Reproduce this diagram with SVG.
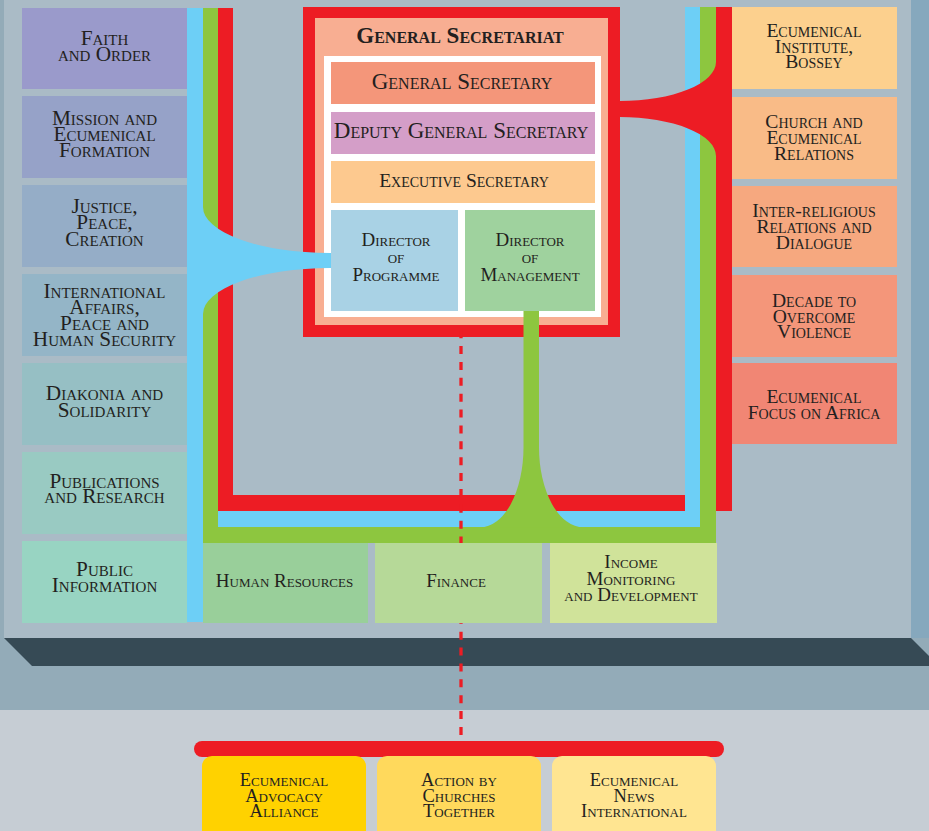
<svg xmlns="http://www.w3.org/2000/svg" width="929" height="831" viewBox="0 0 929 831">
<style>
.t{font-family:"Liberation Serif","Times New Roman",serif;font-variant:small-caps;fill:#231f20;text-anchor:middle}
.l{font-size:21.3px}
.r{font-size:19.6px}
.b{font-size:19px}
.d{font-size:19px}
.a{font-size:18.5px}
.g{font-size:23px}
.title{font-size:23px;font-weight:bold}
.red{fill:#ed1c24}
.blue{fill:#6dcff6}
.green{fill:#8dc63f}
</style>
<g id="background">
<rect x="0" y="0" width="929" height="712" fill="#93abb8"/>
<rect x="4" y="0" width="907" height="638" fill="#aabbc6"/>
<rect x="911" y="0" width="18" height="638" fill="#86a8bd"/>
<polygon points="4,638 911,638 939,666 32,666" fill="#364a55"/>
<rect x="0" y="710" width="929" height="121" fill="#c6cdd4"/>
</g>
<g id="connectors">
<path class="red" d="M218,8 L233,8 L233,495 L716,495 L716,7 L732,7 L732,511 L218,511 Z"/>
<rect class="blue" x="187" y="8" width="16" height="614"/>
<rect class="blue" x="187" y="511" width="513" height="16"/>
<rect class="blue" x="685" y="7" width="15" height="520"/>
<rect class="green" x="203" y="8" width="15" height="535"/>
<rect class="green" x="203" y="527" width="513" height="16"/>
<rect class="green" x="700" y="7" width="16" height="536"/>
</g>
<g id="general-secretariat">
<rect x="303" y="7" width="317" height="330" fill="#ed1c24"/>
<rect x="315" y="18" width="293" height="307" fill="#f8ae92"/>
<rect x="324" y="56" width="277" height="261" fill="#ffffff"/>
<text class="t title" x="460" y="43">General Secretariat</text>
</g>
<g id="general-secretary">
<rect x="331" y="62" width="264" height="42" fill="#f4967a"/>
<text class="t g" x="462" y="88.5">General Secretary</text>
</g>
<g id="deputy-general-secretary">
<rect x="331" y="112" width="264" height="42" fill="#d49ec8"/>
<text class="t g" x="461" y="138">Deputy General Secretary</text>
</g>
<g id="executive-secretary">
<rect x="331" y="161" width="264" height="42" fill="#fdc98f"/>
<text class="t" style="font-size:19.5px" x="464" y="186.5">Executive Secretary</text>
</g>
<g id="director-programme">
<rect x="331" y="210" width="127" height="101" fill="#a9d2e5"/>
<text class="t d" x="396" y="245.5">Director</text>
<text class="t d" x="396" y="263">of</text>
<text class="t d" x="396" y="281">Programme</text>
</g>
<g id="director-management">
<rect x="465" y="210" width="130" height="101" fill="#9fd29e"/>
<text class="t d" x="530" y="245.5">Director</text>
<text class="t d" x="530" y="263">of</text>
<text class="t d" x="530" y="281">Management</text>
</g>
<g id="fans">
<path class="blue" d="M203,207 A127 46 0 0 0 330,253 L331,253 L331,268 L330,268 A127 46 0 0 0 203,314 Z"/>
<path class="red" d="M716,62 A96 39 0 0 1 620,101 L620,117 A96 39 0 0 1 716,156 Z"/>
<path class="green" d="M523.5,311 L539,311 L539,447 A44.6 80 0 0 0 583.6,527.5 L480,527.5 A43.5 80 0 0 0 523.5,447 Z"/>
<line x1="461" y1="330.2" x2="461" y2="736" stroke="#ed1c24" stroke-width="3.3" stroke-dasharray="8 7.87"/>
</g>
<g id="faith-and-order">
<rect x="22" y="8" width="165" height="81" fill="#9a9acb"/>
<text class="t l" x="104.5" y="45">Faith</text>
<text class="t l" x="104.5" y="61">and Order</text>
</g>
<g id="mission">
<rect x="22" y="96" width="165" height="82" fill="#96a2c8"/>
<text class="t l" x="104.5" y="125">Mission and</text>
<text class="t l" x="104.5" y="141">Ecumenical</text>
<text class="t l" x="104.5" y="157">Formation</text>
</g>
<g id="justice">
<rect x="22" y="185" width="165" height="82" fill="#95adc7"/>
<text class="t l" x="104.5" y="213.3">Justice,</text>
<text class="t l" x="104.5" y="229.3">Peace,</text>
<text class="t l" x="104.5" y="245.5">Creation</text>
</g>
<g id="international-affairs">
<rect x="22" y="274" width="165" height="82" fill="#94b5c7"/>
<text class="t l" x="104.5" y="298.3">International</text>
<text class="t l" x="104.5" y="314">Affairs,</text>
<text class="t l" x="104.5" y="330">Peace and</text>
<text class="t l" x="104.5" y="346">Human Security</text>
</g>
<g id="diakonia">
<rect x="22" y="363" width="165" height="82" fill="#96bfc4"/>
<text class="t l" x="104.5" y="400">Diakonia and</text>
<text class="t l" x="104.5" y="416.5">Solidarity</text>
</g>
<g id="publications">
<rect x="22" y="452" width="165" height="82" fill="#99cac2"/>
<text class="t l" x="104.5" y="487.7">Publications</text>
<text class="t l" x="104.5" y="503.3">and Research</text>
</g>
<g id="public-information">
<rect x="22" y="541" width="165" height="82" fill="#98d4c2"/>
<text class="t l" x="104.5" y="576">Public</text>
<text class="t l" x="104.5" y="592.3">Information</text>
</g>
<g id="ecumenical-institute">
<rect x="732" y="7" width="165" height="82" fill="#fcd08e"/>
<text class="t r" x="814" y="36.7">Ecumenical</text>
<text class="t r" x="814" y="52.7">Institute,</text>
<text class="t r" x="814" y="68.3">Bossey</text>
</g>
<g id="church-relations">
<rect x="732" y="97" width="165" height="82" fill="#f9bb87"/>
<text class="t r" x="814" y="128.3">Church and</text>
<text class="t r" x="814" y="144">Ecumenical</text>
<text class="t r" x="814" y="160">Relations</text>
</g>
<g id="inter-religious">
<rect x="732" y="186" width="165" height="81" fill="#f6a87f"/>
<text class="t r" x="814" y="216.7">Inter-religious</text>
<text class="t r" x="814" y="232.7">Relations and</text>
<text class="t r" x="814" y="249.3">Dialogue</text>
</g>
<g id="decade-violence">
<rect x="732" y="275" width="165" height="82" fill="#f4967a"/>
<text class="t r" x="814" y="306.7">Decade to</text>
<text class="t r" x="814" y="322.7">Overcome</text>
<text class="t r" x="814" y="338.3">Violence</text>
</g>
<g id="focus-africa">
<rect x="732" y="363" width="165" height="81" fill="#f18674"/>
<text class="t r" x="814" y="403.3">Ecumenical</text>
<text class="t r" x="814" y="419.3">Focus on Africa</text>
</g>
<g id="human-resources">
<rect x="203" y="543" width="165" height="80" fill="#99cf9a"/>
<text class="t b" x="284.5" y="586.7">Human Resources</text>
</g>
<g id="finance">
<rect x="375" y="543" width="167" height="80" fill="#b6d998"/>
<text class="t b" x="456" y="586.7">Finance</text>
</g>
<g id="income-monitoring">
<rect x="550" y="543" width="167" height="80" fill="#d0e39a"/>
<text class="t b" x="631" y="568.3">Income</text>
<text class="t b" x="631" y="585">Monitoring</text>
<text class="t b" x="631" y="600.7">and Development</text>
</g>
<g id="related-bodies-bar">
<rect x="194" y="741" width="530" height="16" rx="8" fill="#ed1c24"/>
</g>
<g id="eaa">
<rect x="202" y="756" width="164" height="95" rx="10" fill="#ffd200"/>
<text class="t a" x="284" y="786">Ecumenical</text>
<text class="t a" x="284" y="801.7">Advocacy</text>
<text class="t a" x="284" y="817.3">Alliance</text>
</g>
<g id="act">
<rect x="377" y="756" width="164" height="95" rx="10" fill="#ffd95c"/>
<text class="t a" x="459" y="786">Action by</text>
<text class="t a" x="459" y="801.7">Churches</text>
<text class="t a" x="459" y="817.3">Together</text>
</g>
<g id="eni">
<rect x="552" y="756" width="164" height="95" rx="10" fill="#ffe591"/>
<text class="t a" x="634" y="786">Ecumenical</text>
<text class="t a" x="634" y="801.7">News</text>
<text class="t a" x="634" y="817.3">International</text>
</g>
</svg>
